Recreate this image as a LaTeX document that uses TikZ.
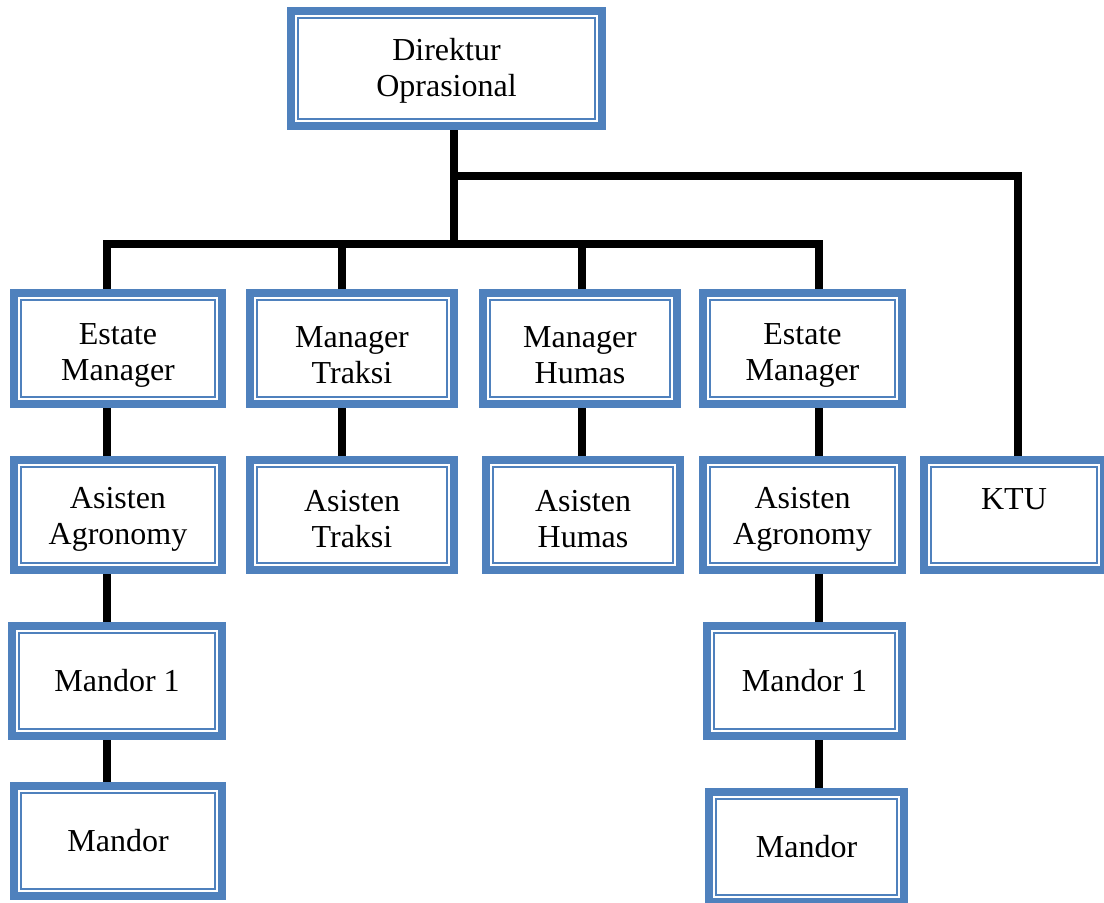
\documentclass[tikz,border=0pt]{standalone}
\usepackage{fontspec}
\setmainfont{Liberation Serif}
\definecolor{boxblue}{RGB}{79,129,189}
\newcommand{\toppad}[1]{\rule{0pt}{#1}}
\begin{document}
\begin{tikzpicture}[x=0.5pt,y=-0.5pt]
            %
            % `orgbox' is the blue framed box with the thin inner line.
            % `link' is used for the black connectors.
            % \toppad pushes two-line texts down a little.
            \tikzstyle{orgbox} = [draw=boxblue,line width=4pt,fill=white,align=center,inner sep=0pt,
                font=\fontsize{16}{18}\selectfont,minimum height=55pt,
                path picture={
                \draw[boxblue,line width=1pt]
                ([shift={(3.5pt,-3.5pt)}]path picture bounding box.north west) rectangle ([shift={(-3.5pt,3.5pt)}]path picture bounding box.south east);
                }]
            \tikzstyle{link} = [draw=black,line width=4pt]
            \useasboundingbox (0,0) rectangle (1104,902);
            %
            % Top
            \node[orgbox,minimum width=155.5pt,minimum height=57.5pt] (dir) at (446.5,68.5) {\toppad{13.5pt}Direktur\\Oprasional};
            %
            % Row 1
            \node[orgbox,minimum width=104pt,minimum height=55.5pt] (em1) at (118,348.5) {\toppad{17pt}Estate\\Manager};
            \node[orgbox,minimum width=102pt,minimum height=55.5pt] (mt) at (352,348.5) {\toppad{17pt}Manager\\Traksi};
            \node[orgbox,minimum width=97pt,minimum height=55.5pt] (mh) at (580,348.5) {\toppad{17pt}Manager\\Humas};
            \node[orgbox,minimum width=99.5pt,minimum height=55.5pt] (em2) at (802.5,348.5) {\toppad{17pt}Estate\\Manager};
            %
            % Row 2
            \node[orgbox,minimum width=104pt] (aa1) at (118,515) {\toppad{15pt}Asisten\\Agronomy};
            \node[orgbox,minimum width=102pt] (at) at (352,515) {\toppad{15pt}Asisten\\Traksi};
            \node[orgbox,minimum width=97pt] (ah) at (583,515) {\toppad{15pt}Asisten\\Humas};
            \node[orgbox,minimum width=99.5pt] (aa2) at (802.5,515) {\toppad{15pt}Asisten\\Agronomy};
            \node[orgbox,minimum width=90pt] (ktu) at (1014,515) {\toppad{18pt}KTU\\\strut};
            %
            % Row 3
            \node[orgbox,minimum width=105pt] (m1a) at (117,681) {Mandor 1};
            \node[orgbox,minimum width=97.5pt] (m1b) at (804.5,681) {Mandor 1};
            %
            % Row 4
            \node[orgbox,minimum width=104pt] (ma) at (118,841) {Mandor};
            \node[orgbox,minimum width=97.5pt] (mb) at (806.5,847) {Mandor};
            %
            % Lines
            \coordinate (trunk) at (454,244);
            \coordinate (colA) at (107,244);
            \coordinate (colB) at (342,244);
            \coordinate (colC) at (582,244);
            \coordinate (colD) at (819,244);
            \coordinate (colE) at (1018,176);
            \draw[link] (dir.south -| trunk) -- (trunk);
            \draw[link] (trunk |- colE) -- (colE) -- (ktu.north -| colE);
            \draw[link] (em1.north -| colA) -- (colA) -- (colD) -- (em2.north -| colD);
            \draw[link] (colB) -- (mt.north -| colB);
            \draw[link] (colC) -- (mh.north -| colC);
            \draw[link] (em1.south -| colA) -- (aa1.north -| colA);
            \draw[link] (aa1.south -| colA) -- (m1a.north -| colA);
            \draw[link] (m1a.south -| colA) -- (ma.north -| colA);
            \draw[link] (mt.south -| colB) -- (at.north -| colB);
            \draw[link] (mh.south -| colC) -- (ah.north -| colC);
            \draw[link] (em2.south -| colD) -- (aa2.north -| colD);
            \draw[link] (aa2.south -| colD) -- (m1b.north -| colD);
            \draw[link] (m1b.south -| colD) -- (mb.north -| colD);
        \end{tikzpicture}
\end{document}
